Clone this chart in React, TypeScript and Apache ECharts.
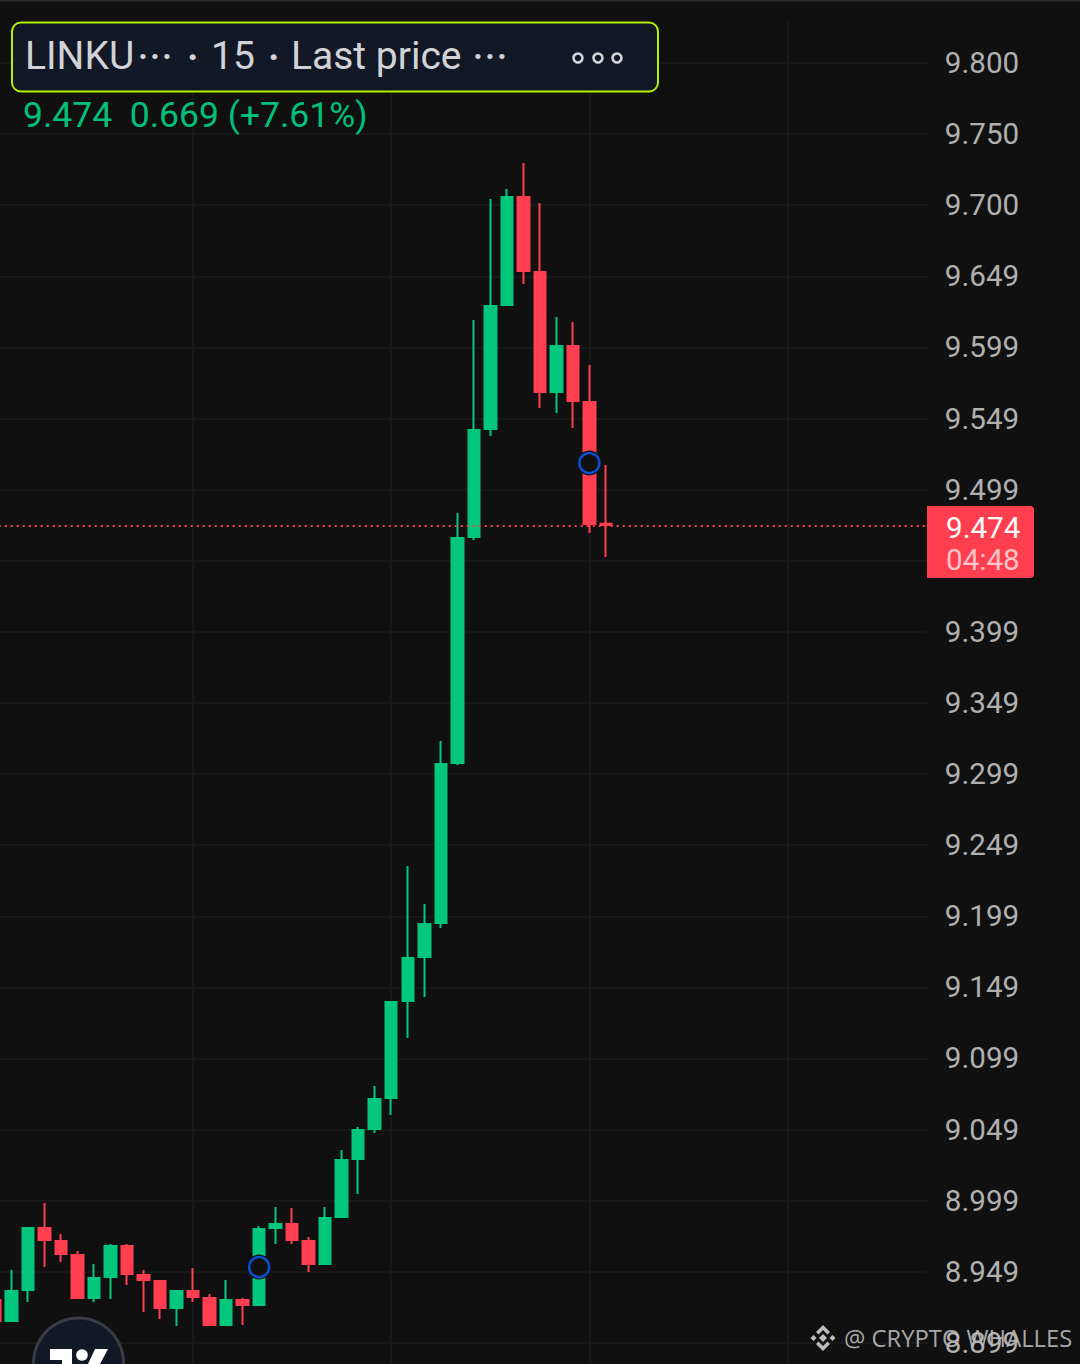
import React, { useEffect, useRef } from "react";
import * as echarts from "echarts";

const WIDTH = 1080;
const HEIGHT = 1364;
const BLEED = 20;
const UP = "#02C77D";
const DOWN = "#FF3F4F";
const BG = "#101010";
const GRID = "#181818";

// [open, close, low, high]
const candles: number[][] = [
  [8.9292, 8.9144, 8.9137, 8.9299],
  [8.9144, 8.9355, 8.9137, 8.9503],
  [8.9362, 8.9798, 8.9277, 8.9805],
  [8.9798, 8.9714, 8.9524, 8.9974],
  [8.9707, 8.9615, 8.9559, 8.9756],
  [8.9608, 8.9306, 8.9299, 8.9637],
  [8.9306, 8.9446, 8.9277, 8.9545],
  [8.9453, 8.9672, 8.9299, 8.9686],
  [8.9672, 8.9475, 8.9397, 8.9686],
  [8.9468, 8.9432, 8.9207, 8.9503],
  [8.9425, 8.9235, 8.9158, 8.9432],
  [8.9235, 8.9355, 8.9108, 8.9362],
  [8.9355, 8.9313, 8.9277, 8.9517],
  [8.9306, 8.9116, 8.9108, 8.9334],
  [8.9116, 8.9292, 8.9108, 8.9432],
  [8.9292, 8.9256, 8.9116, 8.9306],
  [8.9256, 8.9791, 8.9249, 8.9812],
  [8.9798, 8.9826, 8.9686, 8.9946],
  [8.9826, 8.9714, 8.9686, 8.9939],
  [8.9707, 8.9545, 8.9489, 8.9735],
  [8.9545, 8.9869, 8.9538, 8.9946],
  [8.9876, 9.0277, 8.9869, 9.0348],
  [9.0284, 9.0488, 9.0038, 9.0509],
  [9.0495, 9.0707, 9.0467, 9.0798],
  [9.0714, 9.1389, 9.0594, 9.1396],
  [9.1396, 9.1699, 9.1136, 9.2347],
  [9.1706, 9.1939, 9.1425, 9.2079],
  [9.1946, 9.3065, 9.191, 9.3227],
  [9.3072, 9.4656, 9.3058, 9.4832],
  [9.4663, 9.5416, 9.4642, 9.6191],
  [9.5423, 9.6289, 9.5374, 9.7042],
  [9.6296, 9.7057, 9.6289, 9.7113],
  [9.7057, 9.6536, 9.6444, 9.7296],
  [9.6529, 9.5684, 9.5571, 9.7014],
  [9.5684, 9.6008, 9.5536, 9.6212],
  [9.6008, 9.562, 9.543, 9.6177],
  [9.5613, 9.4755, 9.4691, 9.5874],
  [9.4757, 9.4748, 9.4522, 9.517],
];
const emptySlots = 19;
const categories = [...candles, ...Array(emptySlots).fill(null)].map((_, i) => `${i}`);
const markerPoints: [string, number][] = [
  ["16", 8.9524],
  ["36", 9.5184],
];

// Unrounded tick values; the axis shows them truncated to three decimals.
const gridTicks = [
  9.8, 9.75, 9.7, 9.6498, 9.5998, 9.5497, 9.4996, 9.4496, 9.3995, 9.3495, 9.2994, 9.2494, 9.1993,
  9.1492, 9.0992, 9.0491, 8.9991, 8.9491, 8.8991,
];
const labelTicks = gridTicks.filter((t) => t !== 9.4496);
const yMin = 8.88413;
const yMax = 9.84435;
const lastPrice = 9.474;
const countdown = "04:48";
const verticalEvery = 12;

const font = "Roboto";

function hexDiamond(cx: number, cy: number, r: number) {
  return [
    [cx, cy - r],
    [cx + r, cy],
    [cx, cy + r],
    [cx - r, cy],
  ];
}

export default function App() {
  const ref = useRef<HTMLDivElement>(null);
  useEffect(() => {
    document.body.style.margin = "0";
    document.body.style.background = BG;
    const chart = echarts.init(ref.current!, undefined, { renderer: "svg", width: WIDTH + BLEED, height: HEIGHT });
    const wm = "#BDBDBD";
    const head = "#D2D3D6";
    const headText = (text: string, x: number, y: number, size = 39, weight = "") => ({
      type: "text",
      z: 11,
      x,
      y,
      style: { text, font: `${weight} ${size}px ${font}`, fill: head, verticalAlign: "middle" },
    });
    const graphic: any[] = [
      // vertical grid lines stop short of the page's top edge
      { type: "rect", z: 9, shape: { x: 0, y: 1.5, width: 927, height: 19.5 }, style: { fill: BG } },
      { type: "rect", z: 10, shape: { x: 0, y: 0, width: WIDTH, height: 1.5 }, style: { fill: "#2E2E2E" } },
      {
        type: "rect",
        z: 10,
        shape: { x: 12, y: 22.5, width: 646, height: 69, r: 9 },
        style: { fill: "#131826", stroke: "#B4F000", lineWidth: 2 },
      },
      headText("LINKU", 25, 56),
      headText("···", 137, 57, 46),
      headText("·", 187, 57, 38, "bold"),
      headText("15", 211, 56),
      headText("·", 268, 57, 38, "bold"),
      headText("Last price", 291, 56),
      headText("···", 472, 57, 46),
      ...[578, 598, 617].map((cx) => ({
        type: "circle",
        z: 11,
        shape: { cx, cy: 58, r: 4.5 },
        style: { fill: "none", stroke: head, lineWidth: 2.6 },
      })),
      {
        type: "text",
        z: 11,
        x: 23,
        y: 115,
        style: { text: `${lastPrice.toFixed(3)}  0.669 (+7.61%)`, font: `35.5px ${font}`, fill: "#02C07A", verticalAlign: "middle" },
      },
      {
        type: "rect",
        z: 10,
        shape: { x: 927, y: 506, width: 107, height: 72, r: [0, 4, 4, 0] },
        style: { fill: DOWN },
      },
      { type: "text", z: 11, x: 946, y: 528, style: { text: lastPrice.toFixed(3), font: `29.6px ${font}`, fill: "#FFFFFF", verticalAlign: "middle" } },
      { type: "text", z: 11, x: 946, y: 560, style: { text: countdown, font: `29.6px ${font}`, fill: "#FFC4C8", verticalAlign: "middle" } },
      // TradingView badge
      { type: "circle", z: 10, shape: { cx: 78.5, cy: 1363, r: 45 }, style: { fill: "#131826", stroke: "#3A3C44", lineWidth: 3 } },
      {
        type: "polygon",
        z: 11,
        shape: { points: [[50, 1349], [72, 1349], [72, 1364], [62, 1364], [62, 1360], [50, 1360]] },
        style: { fill: "#FFFFFF" },
      },
      { type: "circle", z: 11, shape: { cx: 82, cy: 1355, r: 5.8 }, style: { fill: "#FFFFFF" } },
      {
        type: "polygon",
        z: 11,
        shape: { points: [[95, 1349], [108, 1349], [100, 1364], [88, 1364]] },
        style: { fill: "#FFFFFF" },
      },
      // Watermark
      { type: "polygon", z: 11, shape: { points: hexDiamond(823, 1338, 4) }, style: { fill: wm } },
      { type: "polygon", z: 11, shape: { points: hexDiamond(813.5, 1338, 3) }, style: { fill: wm } },
      { type: "polygon", z: 11, shape: { points: hexDiamond(832.5, 1338, 3) }, style: { fill: wm } },
      {
        type: "polygon",
        z: 11,
        shape: { points: [[823, 1325], [830, 1332], [827.5, 1334.5], [823, 1330], [818.5, 1334.5], [816, 1332]] },
        style: { fill: wm },
      },
      {
        type: "polygon",
        z: 11,
        shape: { points: [[823, 1351], [830, 1344], [827.5, 1341.5], [823, 1346], [818.5, 1341.5], [816, 1344]] },
        style: { fill: wm },
      },
      {
        type: "text",
        z: 11,
        x: 844,
        y: 1338,
        style: { text: "@ CRYPTO WHALLES", font: `23.8px "Open Sans"`, fill: wm, opacity: 0.9, verticalAlign: "middle" },
      },
    ];
    chart.setOption({
      animation: false,
      backgroundColor: BG,
      grid: { left: BLEED - 13.255, top: 0, width: 941.07, height: HEIGHT, containLabel: false },
      xAxis: {
        type: "category",
        data: categories,
        boundaryGap: true,
        axisLine: { show: false },
        axisTick: { show: false },
        axisLabel: { show: false },
        splitLine: {
          show: true,
          alignWithLabel: true,
          interval: (i: number) => i % verticalEvery === 0,
          lineStyle: { color: GRID, width: 2 },
        },
      },
      yAxis: {
        type: "value",
        position: "right",
        scale: true,
        min: yMin,
        max: yMax,
        axisLine: { show: false },
        axisTick: { show: false, customValues: gridTicks },
        axisLabel: {
          show: true,
          inside: false,
          margin: 17,
          align: "left",
          customValues: labelTicks,
          formatter: (v: number) => (Math.floor(v * 1000 + 1e-6) / 1000).toFixed(3),
          color: "#B0B0B0",
          fontFamily: font,
          fontSize: 29.6,
          padding: [2, 0, 0, 0],
          showMinLabel: true,
          showMaxLabel: true,
          hideOverlap: false,
        },
        splitLine: {
          show: true,
          lineStyle: { color: GRID, width: 2 },
        },
      },
      series: [
        {
          type: "candlestick",
          z: 2,
          barWidth: 12,
          data: [...candles, ...Array(emptySlots).fill("-")],
          itemStyle: { color: UP, color0: DOWN, borderColor: UP, borderColor0: DOWN, borderWidth: 2 },
          markLine: {
            silent: true,
            symbol: "none",
            precision: 3,
            label: { show: false },
            lineStyle: { color: DOWN, type: [2, 4], width: 2 },
            data: [{ yAxis: lastPrice }],
          },
        },
        {
          type: "scatter",
          z: 3,
          silent: true,
          symbolSize: 25,
          data: markerPoints,
          itemStyle: { color: BG, opacity: 1 },
        },
        {
          type: "scatter",
          z: 4,
          silent: true,
          symbolSize: 20,
          data: markerPoints,
          itemStyle: { color: BG, borderColor: "#0A4FCF", borderWidth: 2.5, opacity: 1 },
        },
      ],
      graphic: { elements: [{ type: "group", x: BLEED, y: 0, z: 10, children: graphic }] },
    });
    return () => chart.dispose();
  }, []);
  return (
    <div
      ref={ref}
      style={{ position: "absolute", left: -BLEED, top: 0, width: WIDTH + BLEED, height: HEIGHT, overflow: "hidden" }}
    />
  );
}
